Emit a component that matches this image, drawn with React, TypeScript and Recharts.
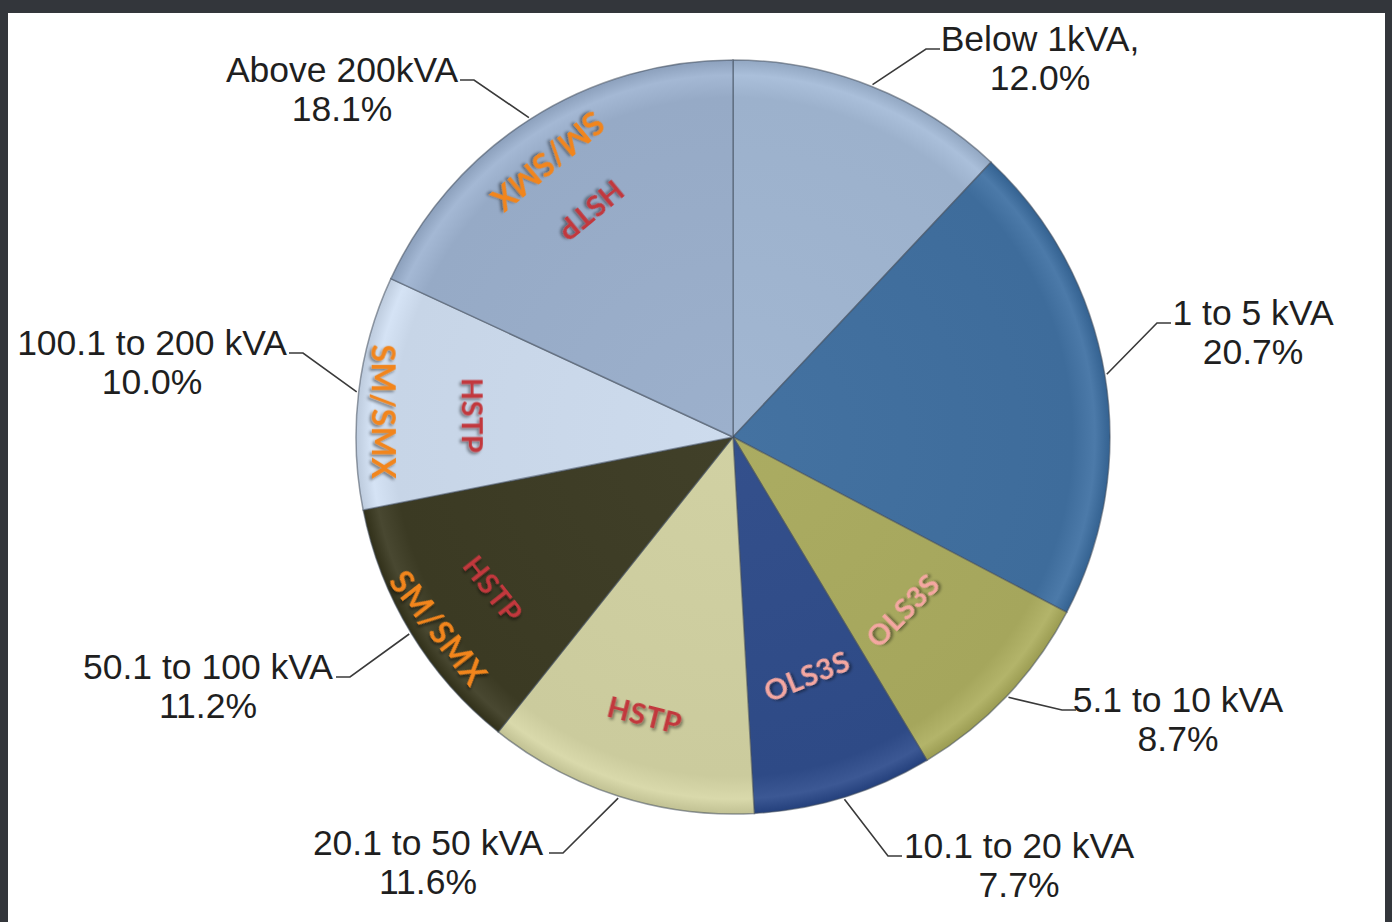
import React from 'react';
import { PieChart, Pie, Cell } from 'recharts';

// ratings and their share of installed units (%)
const categories = [
    'Below 1kVA,',
    '1 to 5 kVA',
    '5.1 to 10 kVA',
    '10.1 to 20 kVA',
    '20.1 to 50 kVA',
    '50.1 to 100 kVA',
    '100.1 to 200 kVA',
    'Above 200kVA',
];
const shares = [12.0, 20.7, 8.7, 7.7, 11.6, 11.2, 10.0, 18.1];
const sliceColors = ['#9cb1cc', '#3e6c9b', '#a5a65c', '#2e4a86', '#cbcb9d', '#3b3a23', '#c7d5e7', '#96aac6'];

// product tags printed inside the slices (slice index, text)
const tagSlices = [2, 3, 4, 5, 5, 6, 6, 7, 7];
const tagTexts = ['OLS3S', 'OLS3S', 'HSTP', 'SM/SMX', 'HSTP', 'SM/SMX', 'HSTP', 'SM/SMX', 'HSTP'];

const tagStyle: Record<string, { fill: string; size: number }> = {
    'OLS3S': { fill: '#f4a7a1', size: 29 },
    'HSTP': { fill: '#c2373c', size: 29 },
    'SM/SMX': { fill: '#f2851c', size: 32 },
};

// where each tag sits: fraction of radius, angle nudge, extra tilt
const tagLayout = [
    { rf: 0.64, dphi: 2.3, tilt: 1.5 },
    { rf: 0.66, dphi: 0, tilt: -5 },
    { rf: 0.77, dphi: 0, tilt: -3.5 },
    { rf: 0.928, dphi: -1.6, tilt: -6.5 },
    { rf: 0.75, dphi: -1.0, tilt: -7 },
    { rf: 0.926, dphi: -2.7, tilt: -7 },
    { rf: 0.69, dphi: -2.1, tilt: -7 },
    { rf: 0.878, dphi: -1.3, tilt: -7 },
    { rf: 0.706, dphi: 0.5, tilt: -7 },
];

// outer label placement relative to pie centre: elbow of leader, text centre x
const outerLayout = [
    { ex: 193, ey: -388, tx: 307 },
    { ex: 424, ey: -114, tx: 520 },
    { ex: 329, ey: 273, tx: 445 },
    { ex: 155, ey: 419, tx: 286 },
    { ex: -170, ey: 416, tx: -305 },
    { ex: -383, ey: 240, tx: -525 },
    { ex: -430, ey: -84, tx: -581 },
    { ex: -259, ey: -357, tx: -391 },
];

const W = 1392;
const H = 922;
const CX = 733;
const CY = 437;
const R = 377;
const RAD = Math.PI / 180;

const data = categories.map((name, i) => ({ name, value: shares[i] }));

const polar = (cx: number, cy: number, r: number, angle: number) => ({
    x: cx + Math.cos(-angle * RAD) * r,
    y: cy + Math.sin(-angle * RAD) * r,
});

const shade = (hex: string, amt: number) => {
    const n = parseInt(hex.slice(1), 16);
    const f = (c: number) => Math.max(0, Math.min(255, Math.round(c + amt)));
    const r = f((n >> 16) & 255), g = f((n >> 8) & 255), b = f(n & 255);
    return `rgb(${r},${g},${b})`;
};

const renderLabel = (props: any) => {
    const { cx, cy, midAngle, outerRadius, index } = props;
    const lay = outerLayout[index];
    const edge = polar(cx, cy, outerRadius + 2, midAngle);
    const ex = cx + lay.ex;
    const ey = cy + lay.ey;
    const dir = Math.sign(lay.tx);
    const hx = ex + dir * 14;
    const tx = cx + lay.tx;
    const textProps = {
        textAnchor: 'middle' as const,
        fontFamily: '"Liberation Sans", Arial, sans-serif',
        fontSize: 35.5,
        fill: '#1f1f1f',
    };

    return (
        <g>
            {tagSlices.map((s, k) => {
                if (s !== index) return null;
                const t = tagLayout[k];
                const p = polar(cx, cy, outerRadius * t.rf, midAngle - t.dphi);
                const rot = 270 - midAngle + t.tilt;
                const st = tagStyle[tagTexts[k]];
                return (
                    <text
                        key={k}
                        transform={`translate(${p.x},${p.y}) rotate(${rot})`}
                        textAnchor="middle"
                        dominantBaseline="central"
                        fontFamily="Lato, 'Open Sans', sans-serif"
                        fontWeight={700}
                        fontSize={st.size}
                        letterSpacing={0.5}
                        fill={st.fill}
                        filter="url(#tagShadow)"
                    >
                        {tagTexts[k]}
                    </text>
                );
            })}
            <polyline
                points={`${edge.x},${edge.y} ${ex},${ey} ${hx},${ey}`}
                fill="none"
                stroke="#3a3a3a"
                strokeWidth={1.6}
            />
            <text x={tx} y={ey + 2} {...textProps}>{categories[index]}</text>
            <text x={tx} y={ey + 41} {...textProps}>{shares[index].toFixed(1)}%</text>
        </g>
    );
};

const App: React.FC = () => {
    return (
        <div style={{ position: 'absolute', left: 0, top: 0, width: W, height: H, background: '#33363b', overflow: 'hidden' }}>
            <div style={{ position: 'absolute', left: 8, top: 13, width: 1377, height: 909, background: '#ffffff' }} />
            <div style={{ position: 'absolute', left: 0, top: 0 }}>
                <PieChart width={W} height={H} margin={{ top: 0, right: 0, bottom: 0, left: 0 }}>
                    <defs>
                        {sliceColors.map((c, i) => (
                            <radialGradient key={i} id={`slice${i}`} gradientUnits="userSpaceOnUse" cx={CX} cy={CY} r={R}>
                                <stop offset="0%" stopColor={shade(c, 6)} />
                                <stop offset="90%" stopColor={c} />
                                <stop offset="96%" stopColor={shade(c, 14)} />
                                <stop offset="100%" stopColor={shade(c, -10)} />
                            </radialGradient>
                        ))}
                        <filter id="tagShadow" x="-20%" y="-40%" width="140%" height="180%">
                            <feDropShadow dx="2" dy="2" stdDeviation="1.4" floodColor="#000" floodOpacity="0.45" />
                        </filter>
                    </defs>
                    <Pie
                        data={data}
                        dataKey="value"
                        nameKey="name"
                        cx={CX}
                        cy={CY}
                        innerRadius={0}
                        outerRadius={R}
                        startAngle={90}
                        endAngle={-270}
                        paddingAngle={0}
                        stroke="rgba(70,80,95,0.55)"
                        strokeWidth={1.5}
                        label={renderLabel}
                        labelLine={false}
                        isAnimationActive={false}
                    >
                        {data.map((_, i) => (
                            <Cell key={i} fill={`url(#slice${i})`} />
                        ))}
                    </Pie>
                </PieChart>
            </div>
        </div>
    );
};

export default App;
